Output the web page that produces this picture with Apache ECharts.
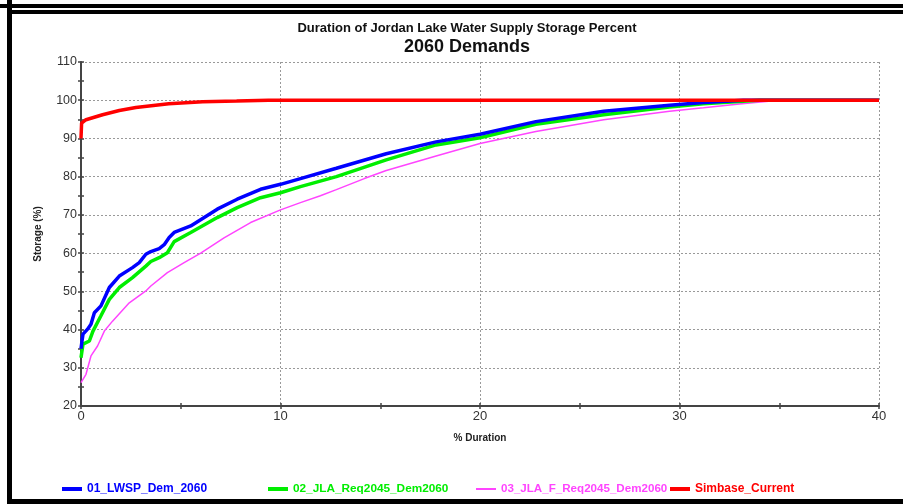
<!DOCTYPE html>
<html>
<head>
<meta charset="utf-8">
<script src="https://cdn.jsdelivr.net/npm/echarts@6/dist/echarts.min.js"></script>
<style>
  html, body { margin: 0; padding: 0; background: #ffffff; }
  #chart { width: 903px; height: 504px; }
</style>
</head>
<body>
<div id="chart"></div>
<script>
// ---- Data ----
var seriesNames = ['01_LWSP_Dem_2060', '02_JLA_Req2045_Dem2060', '03_JLA_F_Req2045_Dem2060', 'Simbase_Current'];

var lwspData = [
  [0, 35], [0.05, 37], [0.1, 38.8], [0.33, 40.1], [0.5, 41.4], [0.67, 44.4], [1.0, 46.2],
  [1.42, 51.0], [1.92, 54.0], [2.58, 56.2], [2.92, 57.5], [3.25, 59.7], [3.5, 60.4],
  [3.92, 61.2], [4.17, 62.2], [4.42, 64.1], [4.67, 65.4], [5.5, 67.1], [6.83, 71.5],
  [7.83, 74.1], [9.0, 76.7], [10, 78.0], [11, 79.5], [12.8, 82.2], [15.3, 86.0],
  [17.8, 89.1], [20, 91.1], [22.8, 94.4], [26.2, 97.1], [29.5, 98.7], [31.2, 99.4],
  [33.2, 100], [40, 100]
];

var jlaData = [
  [0, 32.6], [0.1, 36.2], [0.42, 37.0], [0.6, 39.6], [1.0, 43.6], [1.42, 47.9],
  [1.92, 51.0], [2.58, 53.6], [3.25, 56.6], [3.5, 57.8], [3.92, 58.8], [4.33, 60.1],
  [4.67, 63.0], [5.5, 65.4], [6.83, 69.3], [7.83, 71.9], [9.0, 74.5], [10, 75.8],
  [11, 77.4], [12.8, 80.0], [15.3, 84.4], [17.8, 88.3], [20, 90.2], [22.8, 93.7],
  [26.2, 96.2], [29.5, 98.2], [31.2, 99.1], [34, 100], [40, 100]
];

var jlaFData = [
  [0, 26.1], [0.25, 28.3], [0.5, 33.1], [0.83, 35.7], [1.17, 39.6], [1.58, 42.2],
  [2.42, 47.0], [3.25, 50.1], [3.5, 51.4], [4.33, 54.9], [5.17, 57.5], [6, 60.0],
  [7.17, 64.0], [8.5, 68.0], [10, 71.3], [11, 73.2], [12, 75.0], [12.8, 76.6],
  [14.2, 79.5], [15.3, 81.6], [17.8, 85.4], [20, 88.7], [22.8, 91.8], [26.2, 94.9],
  [29.5, 97.1], [31.2, 98.0], [33, 99.0], [35, 100], [40, 100]
];

var simbaseData = [
  [0, 90], [0.03, 94.0], [0.25, 94.9], [1.08, 96.2], [1.92, 97.3], [2.75, 98.1],
  [4.4, 99.1], [6.1, 99.6], [7.8, 99.8], [9.4, 100], [40, 100]
];

var seriesColors = ['#0000ff', '#00ee00', '#ff44ff', '#ff0000'];
var seriesWidths = [3.5, 3.5, 1.5, 3.5];
var legendLeft = [62, 268, 476, 670];
var legendFont = [12, 11.8, 11.6, 12];

var chart = echarts.init(document.getElementById('chart'), null, { renderer: 'canvas' });

var allData = [lwspData, jlaData, jlaFData, simbaseData];
var zOrder = [3, 2, 1, 4];

var series = seriesNames.map(function (name, i) {
  return {
    name: name,
    type: 'line',
    data: allData[i],
    showSymbol: false,
    symbol: 'none',
    smooth: false,
    z: zOrder[i],
    lineStyle: { color: seriesColors[i], width: seriesWidths[i] },
    itemStyle: { color: seriesColors[i] }
  };
});

var legends = seriesNames.map(function (name, i) {
  return {
    left: legendLeft[i],
    top: 483,
    padding: 0,
    icon: 'rect',
    itemWidth: 20,
    itemHeight: i === 2 ? 2 : 4,
    itemGap: 5,
    data: [{ name: name, textStyle: { color: seriesColors[i] } }],
    textStyle: { fontFamily: 'Liberation Sans', fontSize: legendFont[i], fontWeight: 'bold' },
    selectedMode: false
  };
});

var option = {
  backgroundColor: '#ffffff',
  animation: false,
  title: [
    {
      text: 'Duration of Jordan Lake Water Supply Storage Percent',
      left: 462, top: 17, textAlign: 'center',
      textStyle: { fontFamily: 'Liberation Sans', fontSize: 13, fontWeight: 'bold', color: '#111' }
    },
    {
      text: '2060 Demands',
      left: 462, top: 33, textAlign: 'center',
      textStyle: { fontFamily: 'Liberation Sans', fontSize: 18, fontWeight: 'bold', color: '#111' }
    }
  ],
  legend: legends,
  grid: { left: 81, right: 24, top: 62, bottom: 98, containLabel: false },
  xAxis: [{
    type: 'value',
    min: 0, max: 40, interval: 10,
    name: '% Duration',
    nameLocation: 'middle',
    nameGap: 27,
    nameTextStyle: { fontFamily: 'Liberation Sans', fontSize: 10, fontWeight: 'bold', color: '#222' },
    axisLine: { show: true, onZero: false, lineStyle: { color: '#444', width: 2 } },
    axisTick: { show: true, length: 3, lineStyle: { color: '#444', width: 1.5 } },
    minorTick: { show: true, splitNumber: 2, length: 3, lineStyle: { color: '#444', width: 1.5 } },
    axisLabel: { fontFamily: 'Liberation Sans', fontSize: 13, color: '#333', margin: 4 },
    splitLine: { show: true, lineStyle: { color: '#999', type: [2, 2], width: 1 } }
  }, {
    type: 'value', position: 'bottom',
    min: 0, max: 40, interval: 10,
    axisLine: { show: false },
    axisTick: { show: true, inside: true, length: 3, lineStyle: { color: '#444', width: 1.5 } },
    minorTick: { show: true, splitNumber: 2, length: 3, lineStyle: { color: '#444', width: 1.5 } },
    axisLabel: { show: false },
    splitLine: { show: false }
  }],
  yAxis: [{
    type: 'value',
    min: 20, max: 110, interval: 10,
    name: 'Storage (%)',
    nameLocation: 'middle',
    nameGap: 38,
    nameTextStyle: { fontFamily: 'Liberation Sans', fontSize: 10, fontWeight: 'bold', color: '#222' },
    axisLine: { show: true, onZero: false, lineStyle: { color: '#444', width: 2 } },
    axisTick: { show: true, length: 3, lineStyle: { color: '#444', width: 1.5 } },
    minorTick: { show: true, splitNumber: 2, length: 3, lineStyle: { color: '#444', width: 1.5 } },
    axisLabel: { fontFamily: 'Liberation Sans', fontSize: 12.5, color: '#333', margin: 4 },
    splitLine: { show: true, lineStyle: { color: '#999', type: [2, 2], width: 1 } }
  }, {
    type: 'value', position: 'left',
    min: 20, max: 110, interval: 10,
    axisLine: { show: false },
    axisTick: { show: true, inside: true, length: 3, lineStyle: { color: '#444', width: 1.5 } },
    minorTick: { show: true, splitNumber: 2, length: 3, lineStyle: { color: '#444', width: 1.5 } },
    axisLabel: { show: false },
    splitLine: { show: false }
  }],
  series: series,
  graphic: [
    { type: 'rect', shape: { x: 0, y: 4, width: 903, height: 4 }, style: { fill: '#000' }, z: 100 },
    { type: 'rect', shape: { x: 7, y: 10, width: 896, height: 4 }, style: { fill: '#000' }, z: 100 },
    { type: 'rect', shape: { x: 7, y: 0, width: 5, height: 504 }, style: { fill: '#000' }, z: 100 },
    { type: 'rect', shape: { x: 7, y: 499, width: 896, height: 5 }, style: { fill: '#000' }, z: 100 }
  ]
};

chart.setOption(option);
</script>
</body>
</html>
